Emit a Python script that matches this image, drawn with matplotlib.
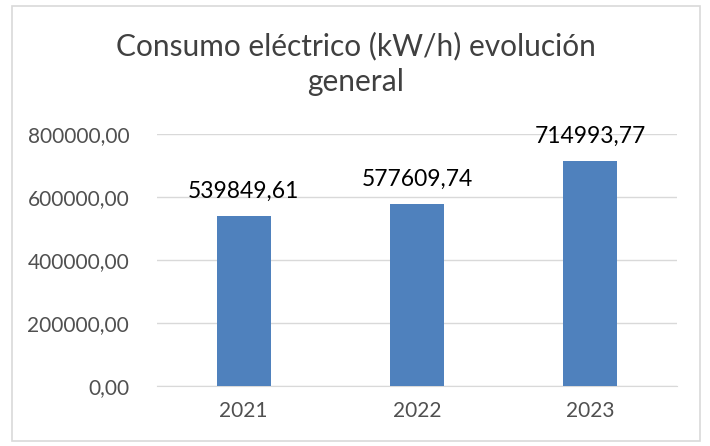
import matplotlib
matplotlib.use("Agg")
import matplotlib.pyplot as plt
from matplotlib.patches import Rectangle

categories = ["2021", "2022", "2023"]
values = [539849.61, 577609.74, 714993.77]
yticks = [0, 200000, 400000, 600000, 800000]
title = "Consumo eléctrico (kW/h) evolución\ngeneral"

def fmt(v):
    return f"{v:.2f}".replace(".", ",")

plt.rcParams['font.family'] = ['Lato', 'DejaVu Sans']

W, H = 710, 446
fig = plt.figure(figsize=(W/100, H/100), dpi=100)
fig.patches.append(Rectangle((12/W, 5/H), (700-12)/W, (440-5)/H, transform=fig.transFigure,
                             fill=False, edgecolor="#d9d9d9", linewidth=1.2))
ax = fig.add_axes([157/W, 1-386/H, (677-157)/W, (386-134)/H])
x = list(range(len(categories)))
ax.bar(x, values, width=0.31, color="#4f81bd", zorder=3)
ax.set_xlim(-0.5, len(categories)-0.5)
ax.set_ylim(0, 800000)
ax.set_yticks(yticks)
ax.set_yticklabels([fmt(v) for v in yticks])
ax.set_xticks(x)
ax.set_xticklabels(categories)
ax.yaxis.grid(True, color="#d9d9d9", linewidth=1, zorder=0)
for s in ["top", "right", "left"]:
    ax.spines[s].set_visible(False)
ax.spines["bottom"].set_color("#d9d9d9")
ax.tick_params(axis="both", length=0, labelsize=15, colors="#505050")
ax.tick_params(axis="y", pad=20)
ax.tick_params(axis="x", pad=11)
for xi, v in zip(x, values):
    ax.annotate(fmt(v), (xi, v), xytext=(0, 13), textcoords="offset points",
                ha="center", va="baseline", fontsize=16.5, color="#000000")
fig.text((12+700)/2/W, 1-64/H, title, ha="center", va="center", fontsize=21.5,
         color="#404040", linespacing=1.35)
fig.savefig("out.png", dpi=100)
